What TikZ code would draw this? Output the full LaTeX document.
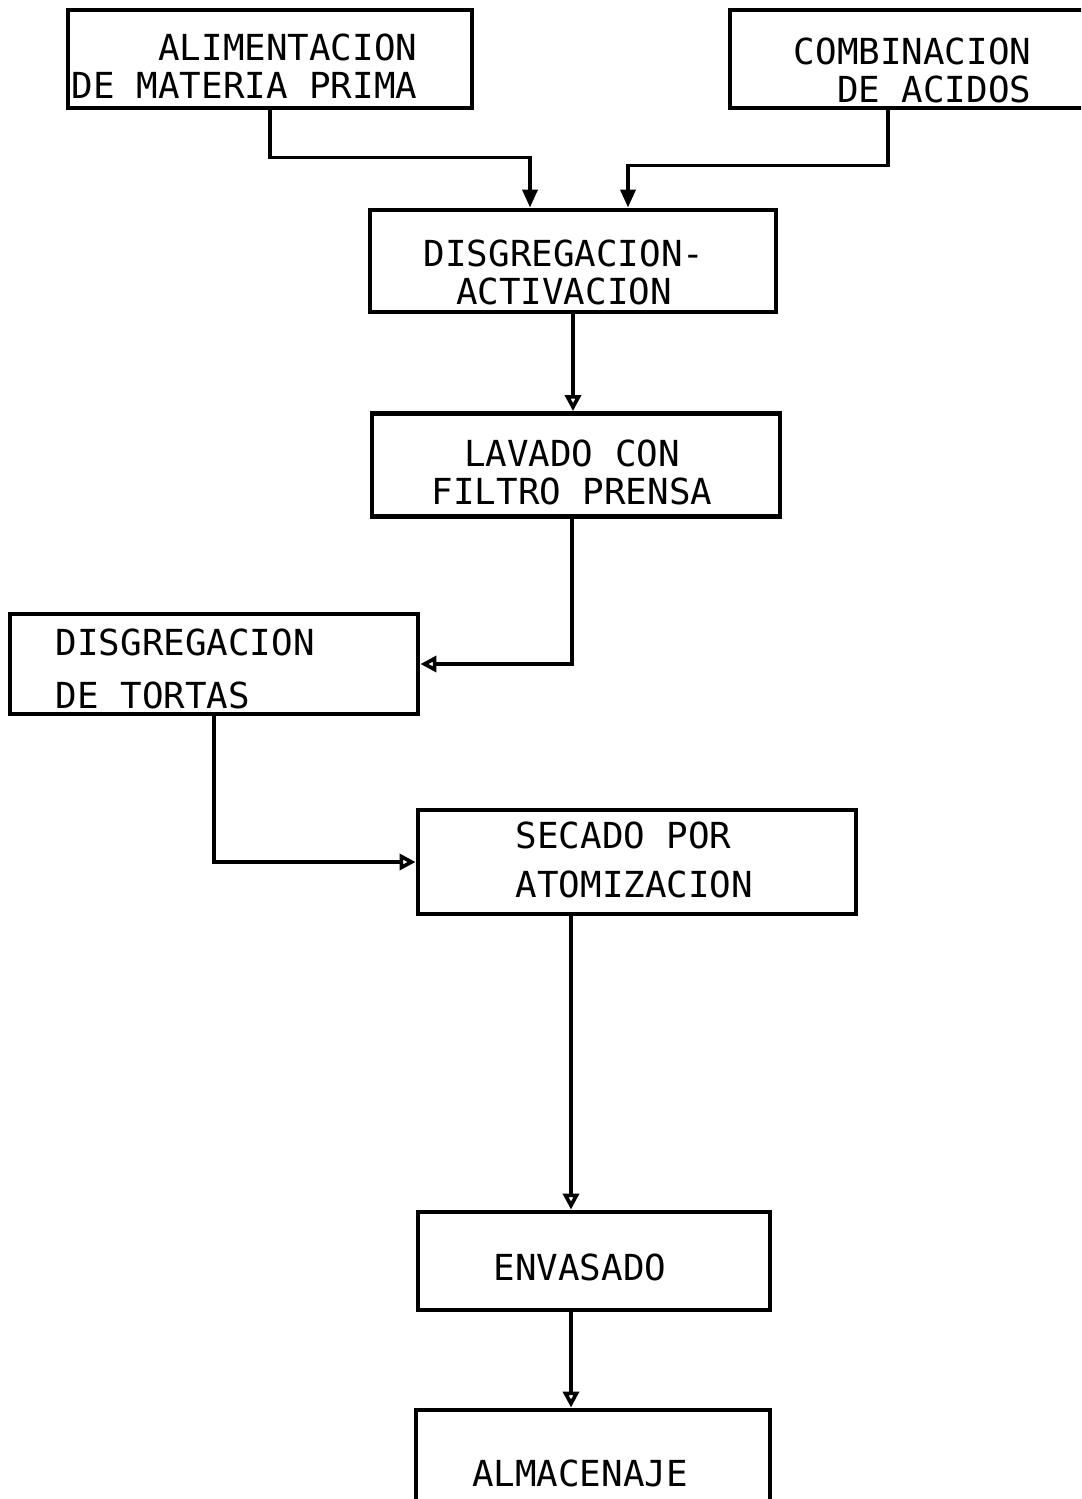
\documentclass[tikz,border=0pt]{standalone}
\usepackage{fontspec}
\setmonofont{DejaVu Sans Mono}
\usepackage{tikz}
\usetikzlibrary{arrows.meta,positioning}
\tikzset{
  ar/.style={-{Triangle[length=1.8mm,width=1.5mm]},line width=1.05pt},
  aro/.style={-{Triangle[open,length=1.6mm,width=1.6mm]},line width=1.05pt},
  box/.style={draw,line width=1.4pt,inner sep=0pt},
  tx/.style={font=\ttfamily\fontsize{10.2}{10.8}\selectfont,inner sep=0pt}
}

\begin{document}
\begin{tikzpicture}[x=0.1mm,y=-0.1mm]
\useasboundingbox (0,0) rectangle (1081,1499);
\clip (0,0) rectangle (1081,1499);
% boxes
\node[box,minimum width=40.4mm,minimum height=9.8mm] (alim) at (270,59) {};
\node[box,minimum width=37mm,minimum height=9.8mm] (comb) at (915,59) {};
\node[box,minimum width=40.6mm,minimum height=10.2mm] (dis) at (573,261) {};
\node[box,minimum width=40.8mm,minimum height=10.3mm] (lav) at (576,465) {};
\node[box,minimum width=40.8mm,minimum height=10mm] (tortas) at (214,664) {};
\node[box,minimum width=43.8mm,minimum height=10.4mm] (sec) at (637,862) {};
\node[box,minimum width=35.2mm,minimum height=9.8mm] (env) at (594,1261) {};
\node[box,minimum width=35.4mm,minimum height=12mm] (alm) at (593,1470) {};
% texts
\node[tx,align=right,anchor=east] (alimT) at (418,66) {ALIMENTACION\\DE MATERIA PRIMA};
\node[tx,align=right,anchor=east] (combT) at (1032,70) {COMBINACION\\DE ACIDOS};
\node[tx,align=center] (disT) at (564,272) {DISGREGACION-\\ACTIVACION};
\node[tx,align=center] (lavT) at (572,472) {LAVADO CON\\FILTRO PRENSA};
\node[tx,align=left,anchor=west] (tortasT) at (55,669) {DISGREGACION\\[4.5pt]DE TORTAS};
\node[tx,align=left,anchor=west] (secT) at (515,860) {SECADO POR\\[3.2pt]ATOMIZACION};
\node[tx] (envT) at (580,1267) {ENVASADO};
\node[tx] (almT) at (580,1473) {ALMACENAJE};
% connectors
\coordinate (trunk) at (571,0);
\draw[ar] (alim.south) -- ++(0,47) -| ([xshift=-4.3mm]dis.north);
\draw[ar] ([xshift=-2.7mm]comb.south) -- ++(0,55) -| ([xshift=5.5mm]dis.north);
\draw[aro] (dis.south) -- (dis.south |- lav.north);
\draw[aro] ([xshift=-0.4mm]lav.south) |- (tortas.east);
\draw[aro] (tortas.south) |- (sec.west);
\draw[aro] (sec.south -| trunk) -- (env.north -| trunk);
\draw[aro] (env.south -| trunk) -- (alm.north -| trunk);
\end{tikzpicture}
\end{document}
